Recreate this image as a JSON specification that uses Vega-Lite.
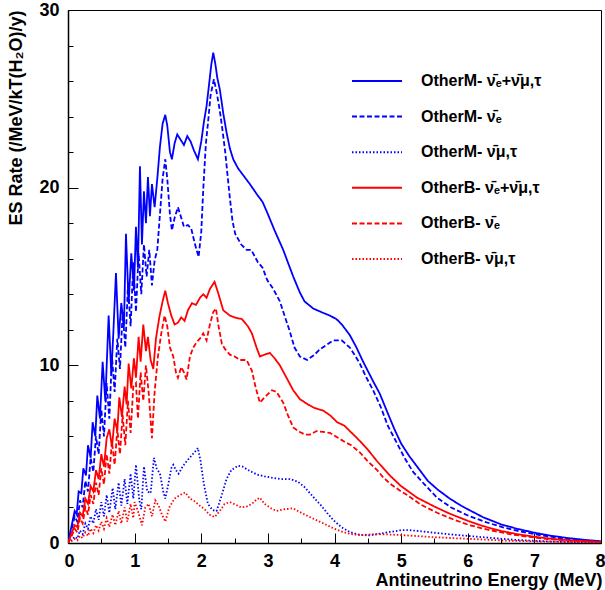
{
 "$schema": "https://vega.github.io/schema/vega-lite/v6.json",
 "width": 533, "height": 533,
 "autosize": {"type": "none"},
 "padding": {"left": 68, "top": 10, "right": 4, "bottom": 47},
 "background": "white",
 "config": {"view": {"stroke": "#000", "strokeWidth": 1}, "font": "Liberation Sans"},
 "datasets": {
  "d": [
{"s":"MT","x":0,"y":0},{"s":"MT","x":0.05,"y":0.9},{"s":"MT","x":0.1,"y":1.8},{"s":"MT","x":0.13,"y":1.6},{"s":"MT","x":0.16,"y":2.9},{"s":"MT","x":0.2,"y":2.8},{"s":"MT","x":0.23,"y":4.2},{"s":"MT","x":0.27,"y":3.8},{"s":"MT","x":0.3,"y":5.5},{"s":"MT","x":0.34,"y":4.8},{"s":"MT","x":0.37,"y":6.8},{"s":"MT","x":0.41,"y":6.0},{"s":"MT","x":0.44,"y":8.3},{"s":"MT","x":0.48,"y":7.0},{"s":"MT","x":0.52,"y":10.2},{"s":"MT","x":0.56,"y":8.0},{"s":"MT","x":0.61,"y":12.8},{"s":"MT","x":0.65,"y":9.5},{"s":"MT","x":0.68,"y":11.8},{"s":"MT","x":0.72,"y":15.2},{"s":"MT","x":0.76,"y":11.5},{"s":"MT","x":0.8,"y":13.5},{"s":"MT","x":0.84,"y":12.2},{"s":"MT","x":0.87,"y":17.4},{"s":"MT","x":0.91,"y":13.5},{"s":"MT","x":0.95,"y":16.3},{"s":"MT","x":0.99,"y":14.2},{"s":"MT","x":1.02,"y":17.8},{"s":"MT","x":1.05,"y":15.5},{"s":"MT","x":1.08,"y":21.2},{"s":"MT","x":1.11,"y":16.8},{"s":"MT","x":1.14,"y":19.8},{"s":"MT","x":1.17,"y":18.0},{"s":"MT","x":1.2,"y":20.6},{"s":"MT","x":1.23,"y":18.4},{"s":"MT","x":1.26,"y":20.2},{"s":"MT","x":1.3,"y":18.9},{"s":"MT","x":1.34,"y":20.5},{"s":"MT","x":1.38,"y":22.3},{"s":"MT","x":1.42,"y":23.6},{"s":"MT","x":1.46,"y":24.1},{"s":"MT","x":1.49,"y":23.5},{"s":"MT","x":1.53,"y":22.0},{"s":"MT","x":1.56,"y":21.6},{"s":"MT","x":1.6,"y":22.5},{"s":"MT","x":1.64,"y":23.0},{"s":"MT","x":1.69,"y":22.7},{"s":"MT","x":1.74,"y":22.4},{"s":"MT","x":1.79,"y":22.9},{"s":"MT","x":1.84,"y":22.6},{"s":"MT","x":1.89,"y":22.1},{"s":"MT","x":1.95,"y":21.6},{"s":"MT","x":2.0,"y":22.6},{"s":"MT","x":2.04,"y":23.7},{"s":"MT","x":2.08,"y":24.6},{"s":"MT","x":2.12,"y":25.9},{"s":"MT","x":2.15,"y":26.9},{"s":"MT","x":2.18,"y":27.6},{"s":"MT","x":2.21,"y":27.0},{"s":"MT","x":2.24,"y":26.2},{"s":"MT","x":2.28,"y":25.5},{"s":"MT","x":2.33,"y":24.2},{"s":"MT","x":2.38,"y":23.1},{"s":"MT","x":2.43,"y":22.2},{"s":"MT","x":2.48,"y":21.6},{"s":"MT","x":2.55,"y":21.1},{"s":"MT","x":2.63,"y":20.7},{"s":"MT","x":2.73,"y":20.2},{"s":"MT","x":2.84,"y":19.6},{"s":"MT","x":2.92,"y":19.2},{"s":"MT","x":2.99,"y":18.6},{"s":"MT","x":3.1,"y":17.6},{"s":"MT","x":3.23,"y":16.5},{"s":"MT","x":3.38,"y":15.0},{"s":"MT","x":3.48,"y":14.1},{"s":"MT","x":3.55,"y":13.6},{"s":"MT","x":3.68,"y":13.2},{"s":"MT","x":3.8,"y":13.0},{"s":"MT","x":3.93,"y":12.8},{"s":"MT","x":4.03,"y":12.6},{"s":"MT","x":4.11,"y":12.3},{"s":"MT","x":4.23,"y":11.7},{"s":"MT","x":4.33,"y":11.0},{"s":"MT","x":4.43,"y":10.2},{"s":"MT","x":4.58,"y":9.1},{"s":"MT","x":4.68,"y":8.4},{"s":"MT","x":4.8,"y":7.3},{"s":"MT","x":4.9,"y":6.4},{"s":"MT","x":5.0,"y":5.6},{"s":"MT","x":5.12,"y":4.9},{"s":"MT","x":5.24,"y":4.3},{"s":"MT","x":5.4,"y":3.5},{"s":"MT","x":5.55,"y":3.0},{"s":"MT","x":5.73,"y":2.5},{"s":"MT","x":5.9,"y":2.1},{"s":"MT","x":6.0,"y":1.9},{"s":"MT","x":6.23,"y":1.45},{"s":"MT","x":6.5,"y":1.05},{"s":"MT","x":6.74,"y":0.8},{"s":"MT","x":7.0,"y":0.58},{"s":"MT","x":7.23,"y":0.42},{"s":"MT","x":7.5,"y":0.28},{"s":"MT","x":7.75,"y":0.18},{"s":"MT","x":8.0,"y":0.1},
{"s":"ME","x":0,"y":0},{"s":"ME","x":0.05,"y":0.7},{"s":"ME","x":0.1,"y":1.5},{"s":"ME","x":0.14,"y":1.2},{"s":"ME","x":0.18,"y":2.4},{"s":"ME","x":0.22,"y":2.0},{"s":"ME","x":0.26,"y":3.5},{"s":"ME","x":0.3,"y":2.9},{"s":"ME","x":0.34,"y":4.8},{"s":"ME","x":0.38,"y":4.0},{"s":"ME","x":0.42,"y":6.0},{"s":"ME","x":0.46,"y":5.0},{"s":"ME","x":0.5,"y":7.5},{"s":"ME","x":0.54,"y":6.0},{"s":"ME","x":0.58,"y":9.0},{"s":"ME","x":0.62,"y":7.0},{"s":"ME","x":0.66,"y":10.5},{"s":"ME","x":0.7,"y":8.5},{"s":"ME","x":0.74,"y":11.5},{"s":"ME","x":0.78,"y":9.8},{"s":"ME","x":0.82,"y":13.0},{"s":"ME","x":0.86,"y":11.0},{"s":"ME","x":0.9,"y":14.5},{"s":"ME","x":0.94,"y":12.2},{"s":"ME","x":0.98,"y":15.8},{"s":"ME","x":1.02,"y":13.0},{"s":"ME","x":1.06,"y":16.3},{"s":"ME","x":1.1,"y":14.0},{"s":"ME","x":1.14,"y":16.8},{"s":"ME","x":1.18,"y":15.0},{"s":"ME","x":1.22,"y":16.5},{"s":"ME","x":1.26,"y":14.5},{"s":"ME","x":1.3,"y":15.9},{"s":"ME","x":1.34,"y":16.5},{"s":"ME","x":1.38,"y":18.5},{"s":"ME","x":1.42,"y":20.5},{"s":"ME","x":1.46,"y":21.6},{"s":"ME","x":1.49,"y":20.5},{"s":"ME","x":1.53,"y":18.5},{"s":"ME","x":1.56,"y":17.6},{"s":"ME","x":1.6,"y":18.3},{"s":"ME","x":1.65,"y":18.9},{"s":"ME","x":1.7,"y":18.3},{"s":"ME","x":1.74,"y":17.8},{"s":"ME","x":1.8,"y":17.9},{"s":"ME","x":1.85,"y":17.7},{"s":"ME","x":1.9,"y":16.9},{"s":"ME","x":1.96,"y":16.1},{"s":"ME","x":2.0,"y":17.5},{"s":"ME","x":2.03,"y":19.9},{"s":"ME","x":2.07,"y":22.5},{"s":"ME","x":2.1,"y":23.6},{"s":"ME","x":2.14,"y":25.2},{"s":"ME","x":2.19,"y":26.1},{"s":"ME","x":2.23,"y":25.4},{"s":"ME","x":2.28,"y":24.3},{"s":"ME","x":2.32,"y":23.2},{"s":"ME","x":2.36,"y":22.0},{"s":"ME","x":2.4,"y":20.5},{"s":"ME","x":2.43,"y":19.4},{"s":"ME","x":2.47,"y":18.1},{"s":"ME","x":2.51,"y":17.4},{"s":"ME","x":2.6,"y":16.8},{"s":"ME","x":2.68,"y":16.5},{"s":"ME","x":2.75,"y":16.5},{"s":"ME","x":2.85,"y":15.8},{"s":"ME","x":2.92,"y":15.5},{"s":"ME","x":2.99,"y":14.8},{"s":"ME","x":3.08,"y":14.3},{"s":"ME","x":3.18,"y":13.6},{"s":"ME","x":3.25,"y":12.8},{"s":"ME","x":3.33,"y":11.9},{"s":"ME","x":3.4,"y":11.0},{"s":"ME","x":3.48,"y":10.5},{"s":"ME","x":3.59,"y":10.3},{"s":"ME","x":3.7,"y":10.6},{"s":"ME","x":3.78,"y":10.9},{"s":"ME","x":3.9,"y":11.2},{"s":"ME","x":3.98,"y":11.4},{"s":"ME","x":4.11,"y":11.4},{"s":"ME","x":4.23,"y":11.0},{"s":"ME","x":4.3,"y":10.6},{"s":"ME","x":4.38,"y":10.1},{"s":"ME","x":4.48,"y":9.3},{"s":"ME","x":4.58,"y":8.6},{"s":"ME","x":4.7,"y":7.6},{"s":"ME","x":4.8,"y":6.6},{"s":"ME","x":4.94,"y":5.6},{"s":"ME","x":5.05,"y":4.8},{"s":"ME","x":5.18,"y":4.0},{"s":"ME","x":5.35,"y":3.3},{"s":"ME","x":5.54,"y":2.55},{"s":"ME","x":5.75,"y":2.0},{"s":"ME","x":6.0,"y":1.55},{"s":"ME","x":6.25,"y":1.2},{"s":"ME","x":6.53,"y":0.88},{"s":"ME","x":6.8,"y":0.64},{"s":"ME","x":7.08,"y":0.45},{"s":"ME","x":7.4,"y":0.27},{"s":"ME","x":7.7,"y":0.15},{"s":"ME","x":8.0,"y":0.06},
{"s":"MX","x":0,"y":0},{"s":"MX","x":0.05,"y":0.15},{"s":"MX","x":0.1,"y":0.35},{"s":"MX","x":0.14,"y":0.25},{"s":"MX","x":0.18,"y":0.7},{"s":"MX","x":0.22,"y":0.5},{"s":"MX","x":0.26,"y":1.1},{"s":"MX","x":0.3,"y":0.8},{"s":"MX","x":0.34,"y":1.5},{"s":"MX","x":0.38,"y":1.1},{"s":"MX","x":0.42,"y":1.9},{"s":"MX","x":0.46,"y":1.3},{"s":"MX","x":0.5,"y":2.3},{"s":"MX","x":0.54,"y":1.5},{"s":"MX","x":0.58,"y":2.7},{"s":"MX","x":0.62,"y":1.7},{"s":"MX","x":0.67,"y":3.1},{"s":"MX","x":0.71,"y":1.9},{"s":"MX","x":0.76,"y":3.4},{"s":"MX","x":0.8,"y":2.1},{"s":"MX","x":0.85,"y":3.6},{"s":"MX","x":0.89,"y":2.2},{"s":"MX","x":0.94,"y":3.9},{"s":"MX","x":0.98,"y":2.5},{"s":"MX","x":1.02,"y":4.4},{"s":"MX","x":1.07,"y":2.4},{"s":"MX","x":1.1,"y":1.9},{"s":"MX","x":1.14,"y":4.3},{"s":"MX","x":1.19,"y":2.9},{"s":"MX","x":1.24,"y":2.8},{"s":"MX","x":1.29,"y":4.8},{"s":"MX","x":1.33,"y":4.2},{"s":"MX","x":1.38,"y":3.9},{"s":"MX","x":1.43,"y":2.9},{"s":"MX","x":1.46,"y":2.5},{"s":"MX","x":1.5,"y":3.2},{"s":"MX","x":1.55,"y":4.2},{"s":"MX","x":1.58,"y":4.4},{"s":"MX","x":1.62,"y":4.1},{"s":"MX","x":1.66,"y":3.9},{"s":"MX","x":1.72,"y":4.3},{"s":"MX","x":1.78,"y":4.6},{"s":"MX","x":1.85,"y":4.9},{"s":"MX","x":1.92,"y":5.2},{"s":"MX","x":1.95,"y":5.35},{"s":"MX","x":1.99,"y":4.6},{"s":"MX","x":2.04,"y":3.3},{"s":"MX","x":2.1,"y":2.2},{"s":"MX","x":2.17,"y":1.85},{"s":"MX","x":2.23,"y":1.8},{"s":"MX","x":2.3,"y":2.6},{"s":"MX","x":2.38,"y":3.6},{"s":"MX","x":2.45,"y":4.1},{"s":"MX","x":2.55,"y":4.35},{"s":"MX","x":2.62,"y":4.3},{"s":"MX","x":2.73,"y":4.05},{"s":"MX","x":2.84,"y":3.85},{"s":"MX","x":2.95,"y":3.75},{"s":"MX","x":3.08,"y":3.66},{"s":"MX","x":3.2,"y":3.6},{"s":"MX","x":3.33,"y":3.6},{"s":"MX","x":3.45,"y":3.45},{"s":"MX","x":3.55,"y":3.15},{"s":"MX","x":3.68,"y":2.6},{"s":"MX","x":3.8,"y":2.1},{"s":"MX","x":3.89,"y":1.69},{"s":"MX","x":3.98,"y":1.3},{"s":"MX","x":4.1,"y":0.9},{"s":"MX","x":4.23,"y":0.62},{"s":"MX","x":4.35,"y":0.48},{"s":"MX","x":4.5,"y":0.42},{"s":"MX","x":4.65,"y":0.5},{"s":"MX","x":4.83,"y":0.62},{"s":"MX","x":5.0,"y":0.72},{"s":"MX","x":5.1,"y":0.73},{"s":"MX","x":5.3,"y":0.66},{"s":"MX","x":5.54,"y":0.56},{"s":"MX","x":5.75,"y":0.48},{"s":"MX","x":6.0,"y":0.4},{"s":"MX","x":6.4,"y":0.27},{"s":"MX","x":6.74,"y":0.17},{"s":"MX","x":7.2,"y":0.09},{"s":"MX","x":7.6,"y":0.05},{"s":"MX","x":8.0,"y":0.02},
{"s":"BT","x":0,"y":0},{"s":"BT","x":0.05,"y":0.5},{"s":"BT","x":0.1,"y":1.0},{"s":"BT","x":0.14,"y":0.9},{"s":"BT","x":0.18,"y":1.7},{"s":"BT","x":0.22,"y":1.5},{"s":"BT","x":0.26,"y":2.5},{"s":"BT","x":0.3,"y":2.2},{"s":"BT","x":0.34,"y":3.2},{"s":"BT","x":0.38,"y":2.9},{"s":"BT","x":0.42,"y":4.1},{"s":"BT","x":0.46,"y":3.6},{"s":"BT","x":0.5,"y":5.0},{"s":"BT","x":0.54,"y":4.3},{"s":"BT","x":0.58,"y":5.9},{"s":"BT","x":0.62,"y":6.4},{"s":"BT","x":0.66,"y":5.4},{"s":"BT","x":0.7,"y":7.0},{"s":"BT","x":0.74,"y":6.3},{"s":"BT","x":0.77,"y":8.2},{"s":"BT","x":0.81,"y":7.1},{"s":"BT","x":0.85,"y":8.8},{"s":"BT","x":0.88,"y":7.8},{"s":"BT","x":0.91,"y":10.1},{"s":"BT","x":0.95,"y":8.7},{"s":"BT","x":0.99,"y":10.4},{"s":"BT","x":1.02,"y":9.3},{"s":"BT","x":1.06,"y":11.6},{"s":"BT","x":1.09,"y":10.2},{"s":"BT","x":1.13,"y":12.3},{"s":"BT","x":1.17,"y":10.8},{"s":"BT","x":1.2,"y":11.6},{"s":"BT","x":1.24,"y":10.3},{"s":"BT","x":1.28,"y":9.8},{"s":"BT","x":1.32,"y":11.5},{"s":"BT","x":1.37,"y":12.7},{"s":"BT","x":1.42,"y":13.6},{"s":"BT","x":1.46,"y":14.2},{"s":"BT","x":1.5,"y":13.5},{"s":"BT","x":1.55,"y":12.8},{"s":"BT","x":1.6,"y":12.3},{"s":"BT","x":1.65,"y":12.4},{"s":"BT","x":1.7,"y":12.7},{"s":"BT","x":1.75,"y":12.5},{"s":"BT","x":1.8,"y":13.1},{"s":"BT","x":1.86,"y":13.5},{"s":"BT","x":1.92,"y":13.4},{"s":"BT","x":1.98,"y":13.8},{"s":"BT","x":2.03,"y":14.0},{"s":"BT","x":2.08,"y":13.8},{"s":"BT","x":2.13,"y":14.3},{"s":"BT","x":2.2,"y":14.7},{"s":"BT","x":2.26,"y":14.0},{"s":"BT","x":2.33,"y":13.1},{"s":"BT","x":2.43,"y":12.8},{"s":"BT","x":2.5,"y":12.7},{"s":"BT","x":2.61,"y":12.6},{"s":"BT","x":2.7,"y":12.2},{"s":"BT","x":2.76,"y":11.8},{"s":"BT","x":2.83,"y":11.0},{"s":"BT","x":2.88,"y":10.5},{"s":"BT","x":2.95,"y":10.6},{"s":"BT","x":3.03,"y":10.7},{"s":"BT","x":3.1,"y":10.4},{"s":"BT","x":3.18,"y":10.0},{"s":"BT","x":3.28,"y":9.3},{"s":"BT","x":3.38,"y":8.6},{"s":"BT","x":3.48,"y":8.1},{"s":"BT","x":3.6,"y":7.8},{"s":"BT","x":3.7,"y":7.6},{"s":"BT","x":3.83,"y":7.45},{"s":"BT","x":3.93,"y":7.2},{"s":"BT","x":4.04,"y":6.8},{"s":"BT","x":4.15,"y":6.6},{"s":"BT","x":4.23,"y":6.3},{"s":"BT","x":4.34,"y":5.9},{"s":"BT","x":4.49,"y":5.3},{"s":"BT","x":4.64,"y":4.6},{"s":"BT","x":4.83,"y":3.8},{"s":"BT","x":5.0,"y":3.2},{"s":"BT","x":5.24,"y":2.55},{"s":"BT","x":5.5,"y":2.05},{"s":"BT","x":5.73,"y":1.65},{"s":"BT","x":6.0,"y":1.25},{"s":"BT","x":6.23,"y":0.95},{"s":"BT","x":6.5,"y":0.68},{"s":"BT","x":6.74,"y":0.5},{"s":"BT","x":7.0,"y":0.35},{"s":"BT","x":7.3,"y":0.22},{"s":"BT","x":7.6,"y":0.13},{"s":"BT","x":8.0,"y":0.06},
{"s":"BE","x":0,"y":0},{"s":"BE","x":0.05,"y":0.35},{"s":"BE","x":0.1,"y":0.8},{"s":"BE","x":0.14,"y":0.6},{"s":"BE","x":0.18,"y":1.4},{"s":"BE","x":0.22,"y":1.1},{"s":"BE","x":0.26,"y":2.0},{"s":"BE","x":0.3,"y":1.6},{"s":"BE","x":0.34,"y":2.7},{"s":"BE","x":0.38,"y":2.2},{"s":"BE","x":0.42,"y":3.4},{"s":"BE","x":0.46,"y":2.7},{"s":"BE","x":0.5,"y":4.2},{"s":"BE","x":0.54,"y":3.3},{"s":"BE","x":0.58,"y":5.0},{"s":"BE","x":0.62,"y":3.9},{"s":"BE","x":0.66,"y":5.7},{"s":"BE","x":0.7,"y":4.4},{"s":"BE","x":0.74,"y":6.4},{"s":"BE","x":0.78,"y":5.0},{"s":"BE","x":0.82,"y":7.2},{"s":"BE","x":0.86,"y":5.5},{"s":"BE","x":0.9,"y":8.0},{"s":"BE","x":0.94,"y":6.2},{"s":"BE","x":0.98,"y":8.8},{"s":"BE","x":1.02,"y":9.0},{"s":"BE","x":1.05,"y":7.0},{"s":"BE","x":1.09,"y":9.6},{"s":"BE","x":1.13,"y":8.0},{"s":"BE","x":1.17,"y":10.0},{"s":"BE","x":1.21,"y":8.5},{"s":"BE","x":1.26,"y":5.9},{"s":"BE","x":1.3,"y":8.5},{"s":"BE","x":1.35,"y":10.5},{"s":"BE","x":1.4,"y":11.8},{"s":"BE","x":1.45,"y":12.8},{"s":"BE","x":1.49,"y":12.2},{"s":"BE","x":1.53,"y":11.0},{"s":"BE","x":1.58,"y":10.5},{"s":"BE","x":1.62,"y":9.6},{"s":"BE","x":1.65,"y":9.3},{"s":"BE","x":1.7,"y":9.9},{"s":"BE","x":1.74,"y":9.6},{"s":"BE","x":1.78,"y":9.2},{"s":"BE","x":1.83,"y":10.5},{"s":"BE","x":1.88,"y":11.0},{"s":"BE","x":1.93,"y":11.3},{"s":"BE","x":1.98,"y":11.5},{"s":"BE","x":2.03,"y":11.8},{"s":"BE","x":2.08,"y":11.4},{"s":"BE","x":2.13,"y":12.3},{"s":"BE","x":2.18,"y":13.0},{"s":"BE","x":2.22,"y":13.2},{"s":"BE","x":2.26,"y":12.2},{"s":"BE","x":2.31,"y":11.2},{"s":"BE","x":2.36,"y":10.9},{"s":"BE","x":2.43,"y":10.6},{"s":"BE","x":2.5,"y":10.5},{"s":"BE","x":2.58,"y":10.3},{"s":"BE","x":2.68,"y":10.3},{"s":"BE","x":2.76,"y":9.7},{"s":"BE","x":2.82,"y":8.7},{"s":"BE","x":2.88,"y":7.9},{"s":"BE","x":2.95,"y":8.2},{"s":"BE","x":3.06,"y":8.6},{"s":"BE","x":3.13,"y":8.5},{"s":"BE","x":3.23,"y":7.9},{"s":"BE","x":3.3,"y":7.2},{"s":"BE","x":3.38,"y":6.5},{"s":"BE","x":3.48,"y":6.25},{"s":"BE","x":3.56,"y":6.1},{"s":"BE","x":3.63,"y":6.1},{"s":"BE","x":3.73,"y":6.3},{"s":"BE","x":3.83,"y":6.25},{"s":"BE","x":3.93,"y":6.2},{"s":"BE","x":4.04,"y":5.95},{"s":"BE","x":4.15,"y":5.7},{"s":"BE","x":4.25,"y":5.5},{"s":"BE","x":4.38,"y":5.1},{"s":"BE","x":4.5,"y":4.6},{"s":"BE","x":4.64,"y":4.1},{"s":"BE","x":4.73,"y":3.7},{"s":"BE","x":4.83,"y":3.35},{"s":"BE","x":5.0,"y":2.9},{"s":"BE","x":5.09,"y":2.7},{"s":"BE","x":5.3,"y":2.15},{"s":"BE","x":5.54,"y":1.7},{"s":"BE","x":5.8,"y":1.3},{"s":"BE","x":6.03,"y":1.0},{"s":"BE","x":6.3,"y":0.75},{"s":"BE","x":6.63,"y":0.5},{"s":"BE","x":6.9,"y":0.35},{"s":"BE","x":7.2,"y":0.22},{"s":"BE","x":7.6,"y":0.12},{"s":"BE","x":8.0,"y":0.05},
{"s":"BX","x":0,"y":0},{"s":"BX","x":0.05,"y":0.1},{"s":"BX","x":0.1,"y":0.22},{"s":"BX","x":0.14,"y":0.15},{"s":"BX","x":0.18,"y":0.4},{"s":"BX","x":0.22,"y":0.28},{"s":"BX","x":0.26,"y":0.6},{"s":"BX","x":0.3,"y":0.4},{"s":"BX","x":0.34,"y":0.8},{"s":"BX","x":0.38,"y":0.55},{"s":"BX","x":0.42,"y":1.0},{"s":"BX","x":0.46,"y":0.7},{"s":"BX","x":0.5,"y":1.2},{"s":"BX","x":0.54,"y":0.8},{"s":"BX","x":0.58,"y":1.4},{"s":"BX","x":0.62,"y":0.9},{"s":"BX","x":0.67,"y":1.6},{"s":"BX","x":0.71,"y":1.0},{"s":"BX","x":0.76,"y":1.8},{"s":"BX","x":0.8,"y":1.1},{"s":"BX","x":0.85,"y":2.0},{"s":"BX","x":0.89,"y":1.2},{"s":"BX","x":0.94,"y":2.2},{"s":"BX","x":0.98,"y":1.4},{"s":"BX","x":1.0,"y":2.3},{"s":"BX","x":1.05,"y":1.8},{"s":"BX","x":1.11,"y":1.0},{"s":"BX","x":1.16,"y":2.0},{"s":"BX","x":1.21,"y":2.2},{"s":"BX","x":1.26,"y":1.5},{"s":"BX","x":1.31,"y":2.4},{"s":"BX","x":1.36,"y":2.1},{"s":"BX","x":1.41,"y":1.6},{"s":"BX","x":1.46,"y":1.2},{"s":"BX","x":1.52,"y":2.0},{"s":"BX","x":1.6,"y":2.5},{"s":"BX","x":1.68,"y":2.7},{"s":"BX","x":1.76,"y":2.85},{"s":"BX","x":1.83,"y":2.5},{"s":"BX","x":1.9,"y":2.35},{"s":"BX","x":1.98,"y":2.1},{"s":"BX","x":2.05,"y":1.9},{"s":"BX","x":2.12,"y":1.6},{"s":"BX","x":2.2,"y":1.46},{"s":"BX","x":2.28,"y":1.8},{"s":"BX","x":2.35,"y":2.2},{"s":"BX","x":2.43,"y":2.3},{"s":"BX","x":2.52,"y":2.15},{"s":"BX","x":2.6,"y":2.0},{"s":"BX","x":2.68,"y":2.05},{"s":"BX","x":2.76,"y":2.2},{"s":"BX","x":2.83,"y":2.45},{"s":"BX","x":2.88,"y":2.55},{"s":"BX","x":2.95,"y":2.2},{"s":"BX","x":3.05,"y":1.95},{"s":"BX","x":3.13,"y":1.8},{"s":"BX","x":3.25,"y":1.9},{"s":"BX","x":3.38,"y":1.95},{"s":"BX","x":3.5,"y":1.7},{"s":"BX","x":3.63,"y":1.46},{"s":"BX","x":3.75,"y":1.25},{"s":"BX","x":3.89,"y":1.0},{"s":"BX","x":4.0,"y":0.8},{"s":"BX","x":4.13,"y":0.62},{"s":"BX","x":4.25,"y":0.5},{"s":"BX","x":4.38,"y":0.45},{"s":"BX","x":4.5,"y":0.47},{"s":"BX","x":4.64,"y":0.5},{"s":"BX","x":4.8,"y":0.48},{"s":"BX","x":4.98,"y":0.45},{"s":"BX","x":5.2,"y":0.4},{"s":"BX","x":5.48,"y":0.33},{"s":"BX","x":5.8,"y":0.27},{"s":"BX","x":6.2,"y":0.2},{"s":"BX","x":6.6,"y":0.13},{"s":"BX","x":7.0,"y":0.09},{"s":"BX","x":7.5,"y":0.05},{"s":"BX","x":8.0,"y":0.02}
  ]
 },
 "data": {"name": "d"},
 "layer": [
  {
   "mark": {"type": "line", "strokeWidth": 1.8, "clip": true},
   "encoding": {
    "x": {"field": "x", "type": "quantitative",
     "scale": {"domain": [0, 8], "nice": false, "zero": false},
     "axis": {"values": [0,1,2,3,4,5,6,7,8], "format": "d", "tickSize": -10, "tickColor": "#000", "tickWidth": 1,
      "domainColor": "#000", "domainWidth": 1.5, "grid": false, "labelFlush": true, "labelFlushOffset": 4, "labelOverlap": false,
      "labelFont": "Liberation Sans", "labelFontSize": 18, "labelFontWeight": "bold", "labelColor": "#000", "labelPadding": 19,
      "title": "Antineutrino Energy (MeV)", "titleFont": "Liberation Sans", "titleFontSize": 18, "titleFontWeight": "bold", "titleColor": "#000",
      "titleAnchor": "end", "titleAlign": "right", "titleBaseline": "alphabetic", "titleX": 534, "titleY": 42}},
    "y": {"field": "y", "type": "quantitative",
     "scale": {"domain": [0, 30], "nice": false},
     "axis": {"values": [0,10,20,30], "format": "d", "tickSize": -10, "tickColor": "#000", "tickWidth": 1,
      "domainColor": "#000", "domainWidth": 1.5, "grid": false, "labelFlush": false, "labelOverlap": false,
      "labelFont": "Liberation Sans", "labelFontSize": 18, "labelFontWeight": "bold", "labelColor": "#000", "labelPadding": 19,
      "title": "ES Rate (/MeV/kT(H₂O)/y)", "titleFont": "Liberation Sans", "titleFontSize": 18, "titleFontWeight": "bold", "titleColor": "#000",
      "titleAnchor": "end", "titleAlign": "right", "titleBaseline": "middle", "titleAngle": 270, "titleX": -52, "titleY": 0}},
    "color": {"field": "s", "type": "nominal",
     "scale": {"domain": ["MT","ME","MX","BT","BE","BX"], "range": ["#0000ff","#0000ff","#0000ff","#ff0000","#ff0000","#ff0000"]},
     "legend": {"orient": "none", "legendX": 283, "legendY": 61, "title": null, "padding": 0,
      "symbolType": "stroke", "symbolSize": 2500, "symbolStrokeWidth": 2, "clipHeight": 20, "rowPadding": 15.6,
      "labelFont": "Liberation Sans", "labelFontSize": 16, "labelFontWeight": "bold", "labelColor": "#000", "labelOffset": 18, "labelLimit": 300,
      "labelExpr": "{'MT':'OtherM- ν̄ₑ+ν̄μ,τ','ME':'OtherM- ν̄ₑ','MX':'OtherM- ν̄μ,τ','BT':'OtherB- ν̄ₑ+ν̄μ,τ','BE':'OtherB- ν̄ₑ','BX':'OtherB- ν̄μ,τ'}[datum.label]"}},
    "strokeDash": {"field": "s", "type": "nominal",
     "scale": {"domain": ["MT","ME","MX","BT","BE","BX"], "range": [[1,0],[5,2.5],[1.5,2],[1,0],[5,2.5],[1.5,2]]},
     "legend": {"orient": "none", "legendX": 283, "legendY": 61, "title": null, "padding": 0,
      "symbolType": "stroke", "symbolSize": 2500, "symbolStrokeWidth": 2, "clipHeight": 20, "rowPadding": 15.6,
      "labelFont": "Liberation Sans", "labelFontSize": 16, "labelFontWeight": "bold", "labelColor": "#000", "labelOffset": 18, "labelLimit": 300,
      "labelExpr": "{'MT':'OtherM- ν̄ₑ+ν̄μ,τ','ME':'OtherM- ν̄ₑ','MX':'OtherM- ν̄μ,τ','BT':'OtherB- ν̄ₑ+ν̄μ,τ','BE':'OtherB- ν̄ₑ','BX':'OtherB- ν̄μ,τ'}[datum.label]"}}
   }
  },
  {
   "mark": {"type": "point", "opacity": 0},
   "encoding": {
    "x": {"field": "x", "type": "quantitative",
     "axis": {"orient": "bottom", "values": [0.5,1.5,2.5,3.5,4.5,5.5,6.5,7.5], "tickSize": -5, "tickColor": "#000", "tickWidth": 1,
      "labels": false, "domain": false, "grid": false, "title": null}},
    "y": {"field": "y", "type": "quantitative",
     "axis": {"orient": "left", "values": [2,4,6,8,12,14,16,18,22,24,26,28], "tickSize": -5, "tickColor": "#000", "tickWidth": 1,
      "labels": false, "domain": false, "grid": false, "title": null}}
   }
  }
 ],
 "resolve": {"axis": {"x": "independent", "y": "independent"}}
}
